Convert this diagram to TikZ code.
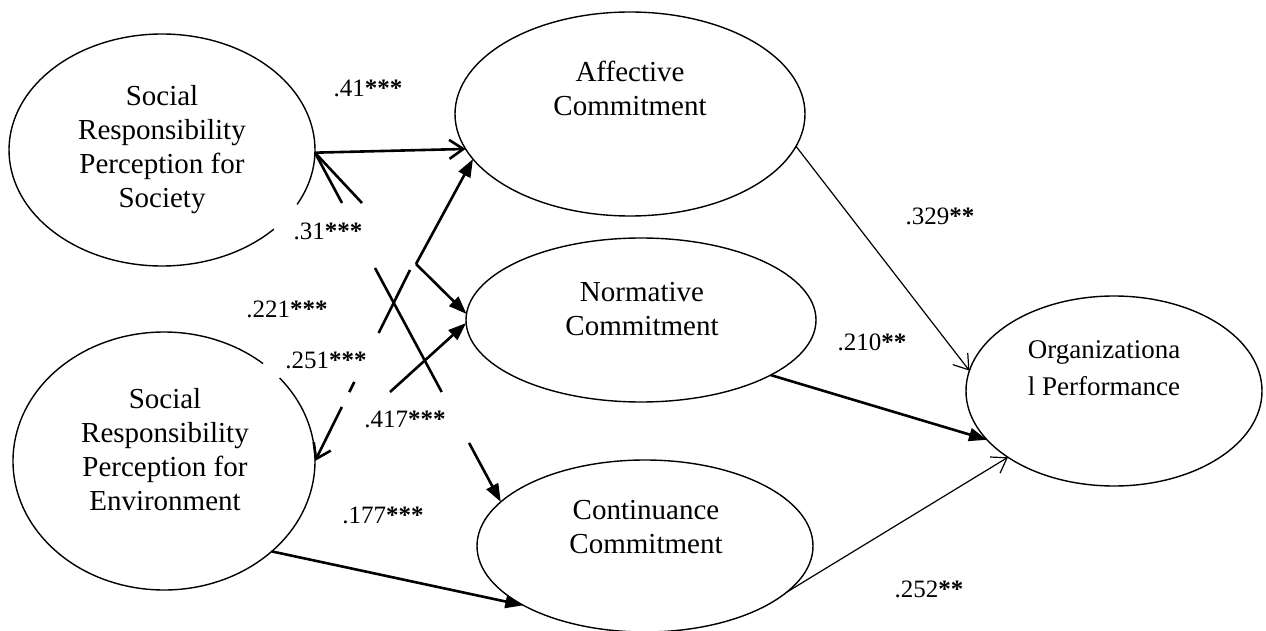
\documentclass[tikz,border=0pt]{standalone}
\usepackage{fontspec}
\setmainfont{Liberation Serif}
\usetikzlibrary{arrows.meta,calc,shapes.geometric}
\newcommand{\stars}[1]{\textbf{#1}}
\begin{document}
\begin{tikzpicture}[x=1pt,y=-1pt,
  ell/.style={ellipse,draw,line width=1.4pt,inner sep=0pt,outer sep=0pt},
  hid/.style={ellipse,inner sep=0pt,outer sep=0pt},
  txt/.style={align=center,inner sep=0pt,anchor=north,font=\fontsize{29}{34}\selectfont},
  lab/.style={anchor=base,inner sep=0pt,font=\fontsize{25}{30}\selectfont},
  thk/.style={line width=2.6pt},
  thn/.style={line width=1.2pt},
  opn/.style={-{Straight Barb[length=14pt,width=19pt]}},
  fil/.style={-{Triangle[length=18pt,width=13pt]}},
  outl/.style={line width=1.4pt}
]
\useasboundingbox (0,0) rectangle (1266,631);

% latent variables
\node[hid,minimum width=306pt,minimum height=232pt] (soc) at (162,150) {};
\node[hid,minimum width=302pt,minimum height=258pt] (env) at (164,461) {};
\node[ell,minimum width=350pt,minimum height=204pt] (aff) at (630,114) {};
\node[ell,minimum width=350pt,minimum height=164pt] (nor) at (641,320) {};
\node[ell,minimum width=336pt,minimum height=172pt] (con) at (645,546) {};
\node[ell,minimum width=296pt,minimum height=190pt] (org) at (1114,391) {};

\draw[outl] ($(soc.center)+(43:153 and 116)$) arc[start angle=43,end angle=388,x radius=153,y radius=116];
\draw[outl] ($(env.center)+(-40:151 and 129)$) arc[start angle=-40,end angle=311,x radius=151,y radius=129];

% texts
\node[txt] (socT) at (162,85) {Social\\Responsibility\\Perception for\\Society};
\node[txt] (envT) at (165,388) {Social\\Responsibility\\Perception for\\Environment};
\node[txt] (affT) at (630,61) {Affective\\Commitment};
\node[txt] (norT) at (642,282) {Normative\\Commitment};
\node[txt] (conT) at (646,500) {Continuance\\Commitment};
\node[txt,font=\fontsize{27}{37}\selectfont] (orgT) at (1104,340) {Organizationa\\l Performance};

% helper coordinates for free ends
\coordinate (b1) at (342,203);
\coordinate (b2) at (362,203);
\coordinate (c1) at (410,270);
\coordinate (a1) at (375,268);
\coordinate (v) at (416,264);
\coordinate (d1) at (390,392);

% connectors
\draw[thk,opn] (soc.-1) -- (aff.192.5);
\draw[thk] (soc.-1) -- (b1);
\draw[thk] (soc.-1) -- (b2);

\draw[thk] (c1) -- ($(c1)!0.33!(env.east)$);
\draw[thk] ($(c1)!0.586!(env.east)$) -- ($(c1)!0.639!(env.east)$);
\draw[thk,opn] ($(c1)!0.717!(env.east)$) -- (env.east);

\draw[thk] (a1) -- ($(a1)!0.53!(con.163.6)$);
\draw[thk,fil] ($(a1)!0.748!(con.163.6)$) -- (con.163.6);

\draw[thk,fil] (v) -- (aff.196);
\draw[thk,fil] (v) -- (nor.178);
\draw[thk,fil] (d1) -- (nor.181);

\draw[thk,fil] (env.-40) -- (con.206);
\draw[thn,opn] (aff.-11.7) -- (org.172);
\draw[thk,fil] (nor.-23.5) -- (org.201);
\draw[thn,opn] (con.-18.7) -- (org.212);

% labels
\node[lab] (l1) at (368,97) {.41\stars{***}};
\node[lab] (l2) at (328,240) {.31\stars{***}};
\node[lab] (l3) at (287,317) {.221\stars{***}};
\node[lab] (l4) at (326,368) {.251\stars{***}};
\node[lab] (l5) at (405,427) {.417\stars{***}};
\node[lab] (l6) at (383,523) {.177\stars{***}};
\node[lab] (l7) at (940,225) {.329\stars{**}};
\node[lab] (l8) at (872,350) {.210\stars{**}};
\node[lab] (l9) at (929,597) {.252\stars{**}};
\end{tikzpicture}
\end{document}
